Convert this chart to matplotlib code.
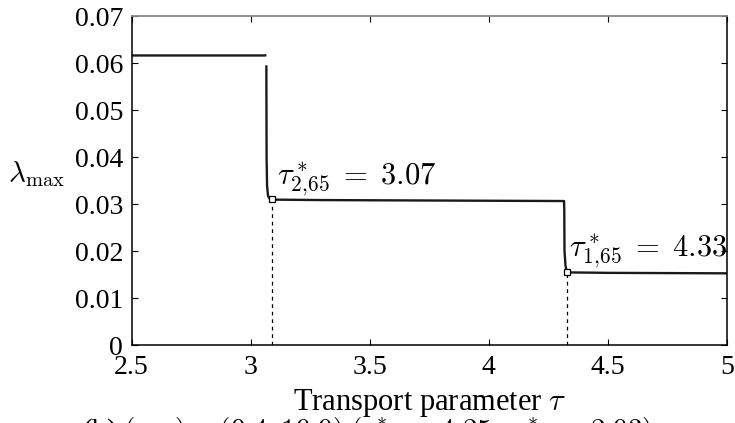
import numpy as np
import matplotlib
matplotlib.use('Agg')
import matplotlib.pyplot as plt

plt.rcParams['font.family'] = 'serif'
plt.rcParams['font.serif'] = ['Liberation Serif', 'DejaVu Serif']
plt.rcParams['mathtext.fontset'] = 'cm'

# branch before the first jump
tau_a = [2.5, 2.8, 3.06, 3.066]
lam_a = [0.0617, 0.0617, 0.0617, 0.0618]

# branch after the jump, through the second switch
tau_b = [3.066, 3.0665, 3.067, 3.069, 3.073, 3.08, 3.089, 3.3, 3.8, 4.3, 4.316,
         4.317, 4.318, 4.322, 4.327, 4.33, 4.5, 5.0]
lam_b = [0.0596, 0.050, 0.040, 0.034, 0.0318, 0.0312, 0.0310, 0.0309, 0.0308, 0.0307, 0.0307,
         0.0290, 0.0200, 0.0170, 0.0158, 0.0155, 0.0154, 0.0153]

# switching points
tau_star = [3.089, 4.33]
lam_star = [0.0311, 0.0155]
star_labels = [r'$\tau^*_{2,\!65}\;=\;3.07$', r'$\tau^*_{1,\!65}\;=\;4.33$']

fig = plt.figure(figsize=(7.35, 4.23), dpi=100)
ax = fig.add_axes([0.179, 0.184, 0.810, 0.777])

ax.plot(tau_a, lam_a, color='#1a1a1a', lw=1.7, solid_capstyle='butt')
ax.plot(tau_b, lam_b, color='#1a1a1a', lw=1.7, solid_capstyle='butt')

for t, l in zip(tau_star, lam_star):
    ax.plot([t, t], [0, l], color='black', lw=0.9, ls=(0, (3, 3)))
ax.plot(tau_star, lam_star, ls='none', marker='s', ms=5, mfc='white', mec='black', mew=0.9, zorder=5)

ax.text(tau_star[0] + 0.02, lam_star[0] + 0.0032, star_labels[0], fontsize=22, ha='left', va='baseline')
ax.text(tau_star[1] + 0.005, lam_star[1] + 0.0034, star_labels[1], fontsize=22, ha='left', va='baseline')

ax.set_xlim(2.5, 5)
ax.set_ylim(0, 0.07)
ax.set_xticks([2.5, 3, 3.5, 4, 4.5, 5])
ax.set_xticklabels(['2.5', '3', '3.5', '4', '4.5', '5'])
ax.set_yticks([0, 0.01, 0.02, 0.03, 0.04, 0.05, 0.06, 0.07])
ax.set_yticklabels(['0', '0.01', '0.02', '0.03', '0.04', '0.05', '0.06', '0.07'])
ax.tick_params(direction='in', top=True, right=True, length=4, width=0.8, labelsize=20)
ax.tick_params(axis='x', pad=7)
ax.tick_params(axis='y', pad=6)

for s in ['left', 'bottom', 'right']:
    ax.spines[s].set_linewidth(1.1)
ax.spines['top'].set_color('#888888')
ax.spines['top'].set_linewidth(1.3)

ax.set_xlabel(r'Transport parameter $\tau$', fontsize=22, labelpad=5)
ax.set_ylabel(r'$\lambda_{\max}$', fontsize=21, rotation=0, ha='center', va='center')
ax.yaxis.set_label_coords(-0.16, 0.52)

fig.text(0.5, 1 - 416 / 423, r'(b) $(r, s)=(0.4, 19.9)$ $(\tau_{1,1}^{*}=4.25,\ \tau_{2,1}^{*}=2.93)$',
         fontsize=21, ha='center', va='top')

fig.savefig('out.png', dpi=100)
